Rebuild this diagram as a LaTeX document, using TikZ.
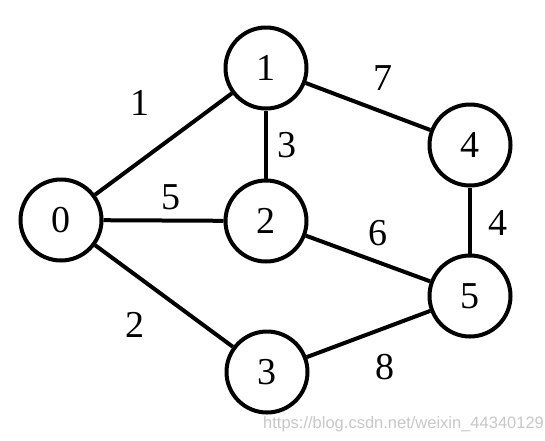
\documentclass[tikz,border=0pt]{standalone}
\usepackage{fontspec}
\setmainfont{Liberation Serif}
\newfontfamily\wmfont{Liberation Sans}
\begin{document}
\begin{tikzpicture}[x=1pt,y=-1pt,
  vertex/.style={circle,draw=black,line width=4pt,minimum size=81pt,inner sep=0pt,font=\fontsize{38}{38}\selectfont},
  edge/.style={line width=4pt,draw=black},
  wlabel/.style={font=\fontsize{38}{38}\selectfont,inner sep=0pt}]
\useasboundingbox (0,0) rectangle (545,440);
\node[vertex] (n0) at (61,220) {0};
\node[vertex] (n1) at (266,68) {1};
\node[vertex] (n2) at (266,221) {2};
\node[vertex] (n3) at (267,372) {3};
\node[vertex] (n4) at (470,145) {4};
\node[vertex] (n5) at (470,296) {5};
\draw[edge] (n0) -- (n1);
\draw[edge] (n0) -- (n2);
\draw[edge] (n0) -- (n3);
\draw[edge] (n1) -- (n2);
\draw[edge] (n1) -- (n4);
\draw[edge] (n2) -- (n5);
\draw[edge] (n3) -- (n5);
\draw[edge] (n4) -- (n5);
\node[wlabel] (l01) at (140,103) {1};
\node[wlabel] (l12) at (287,145) {3};
\node[wlabel] (l02) at (171,197) {5};
\node[wlabel] (l14) at (383,78) {7};
\node[wlabel] (l25) at (378,233) {6};
\node[wlabel] (l03) at (135,325) {2};
\node[wlabel] (l35) at (385,367) {8};
\node[wlabel] (l45) at (498,223) {4};
\node[anchor=base west,inner sep=0pt,text=black!22,font=\wmfont\fontsize{16.5}{16.5}\selectfont] (wm) at (263,428) {https://blog.csdn.net/weixin\_44340129};
\end{tikzpicture}
\end{document}
